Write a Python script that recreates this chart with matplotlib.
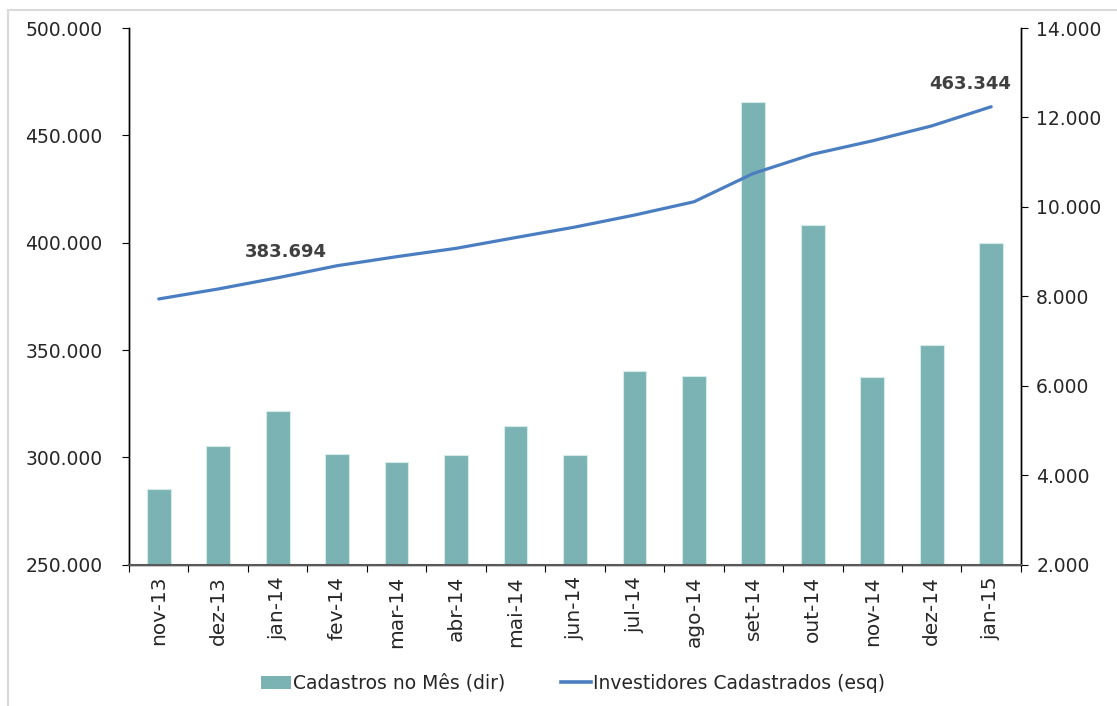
import numpy as np
import matplotlib
matplotlib.use("Agg")
import matplotlib.pyplot as plt
from matplotlib.lines import Line2D
from matplotlib.patches import Patch, Rectangle
from matplotlib.ticker import FuncFormatter, FixedLocator

plt.rcParams["font.family"] = "DejaVu Sans"

# data
months = ["nov-13", "dez-13", "jan-14", "fev-14", "mar-14", "abr-14", "mai-14",
          "jun-14", "jul-14", "ago-14", "set-14", "out-14", "nov-14", "dez-14", "jan-15"]
cadastros_mes = [3692, 4666, 5435, 4474, 4302, 4458, 5113, 4451,
                 6335, 6223, 12357, 9604, 6201, 6909, 9202]
investidores = [373814, 378465, 383694, 389300, 393500, 397395, 402400, 407302,
                412884, 419070, 432279, 441256, 447442, 454419, 463344]
labeled_points = {2: "383.694", 14: "463.344"}
label_offsets = {2: (6, 12), 14: (-15, 10)}

bar_color = "#7BB3B4"
line_color = "#4A7EC1"
text_color = "#262626"


def dot_thousands(v, pos=None):
    return "{:,.0f}".format(v).replace(",", ".")


fig = plt.figure(figsize=(11.17, 7.06), dpi=100)
ax1 = fig.add_axes([0.1155, 0.2, 0.7985, 0.7603])
ax2 = ax1.twinx()

x = np.arange(len(months))

# bars on the right axis
ax2.bar(x, cadastros_mes, width=0.4, color=bar_color, edgecolor="#D6EAEA",
        linewidth=0.8, zorder=2)
ax2.set_ylim(2000, 14000)
ax2.set_yticks(np.arange(2000, 14001, 2000))
ax2.yaxis.set_major_formatter(FuncFormatter(dot_thousands))

# line on the left axis, drawn above bars
ax1.set_zorder(ax2.get_zorder() + 1)
ax1.patch.set_visible(False)
ax1.plot(x, investidores, color=line_color, linewidth=2.3, zorder=3,
         solid_capstyle="round")
ax1.set_ylim(250000, 500000)
ax1.set_yticks(np.arange(250000, 500001, 50000))
ax1.yaxis.set_major_formatter(FuncFormatter(dot_thousands))

for i, lab in labeled_points.items():
    ax1.annotate(lab, (x[i], investidores[i]), xytext=label_offsets[i],
                 textcoords="offset points", ha="center", va="bottom",
                 fontsize=13, fontweight="bold", color="#404040")

ax1.set_xlim(-0.5, len(months) - 0.5)
ax1.xaxis.set_major_locator(FixedLocator(np.arange(-0.5, len(months), 1.0)))
ax1.xaxis.set_major_formatter(FuncFormatter(lambda v, p: ""))
ax1.xaxis.set_minor_locator(FixedLocator(x))
ax1.set_xticklabels(months, minor=True, rotation=90, fontsize=14.5,
                    color=text_color)
ax1.tick_params(axis="x", which="minor", length=0, pad=8)
ax1.tick_params(axis="x", which="major", length=5, direction="out")

ax1.tick_params(axis="y", labelsize=13.5, labelcolor=text_color, length=5,
                pad=14)
ax2.tick_params(axis="y", labelsize=13.5, labelcolor=text_color, length=5,
                pad=6)

for ax in (ax1, ax2):
    ax.spines["top"].set_visible(False)
    for s in ("left", "right", "bottom"):
        ax.spines[s].set_color("#000000")
        ax.spines[s].set_linewidth(1.0)
ax1.spines["bottom"].set_color("#595959")
ax1.spines["bottom"].set_linewidth(1.5)

handles = [Patch(facecolor=bar_color, edgecolor="none"),
           Line2D([], [], color=line_color, linewidth=2.6)]
fig.legend(handles, ["Cadastros no Mês (dir)", "Investidores Cadastrados (esq)"],
           loc="center", bbox_to_anchor=(0.513, 0.032), ncol=2, frameon=False,
           prop={"size": 13.5},
           handlelength=1.6, handletextpad=0.1, columnspacing=3.0,
           labelcolor=text_color)

# thin grey frame around the chart area
fig.add_artist(Rectangle((8 / 1117, -0.01), 1.2, 1 - 10 / 706 + 0.01,
                         transform=fig.transFigure, fill=False,
                         edgecolor="#D9D9D9", linewidth=1.5))

fig.savefig("out.png", dpi=100)
